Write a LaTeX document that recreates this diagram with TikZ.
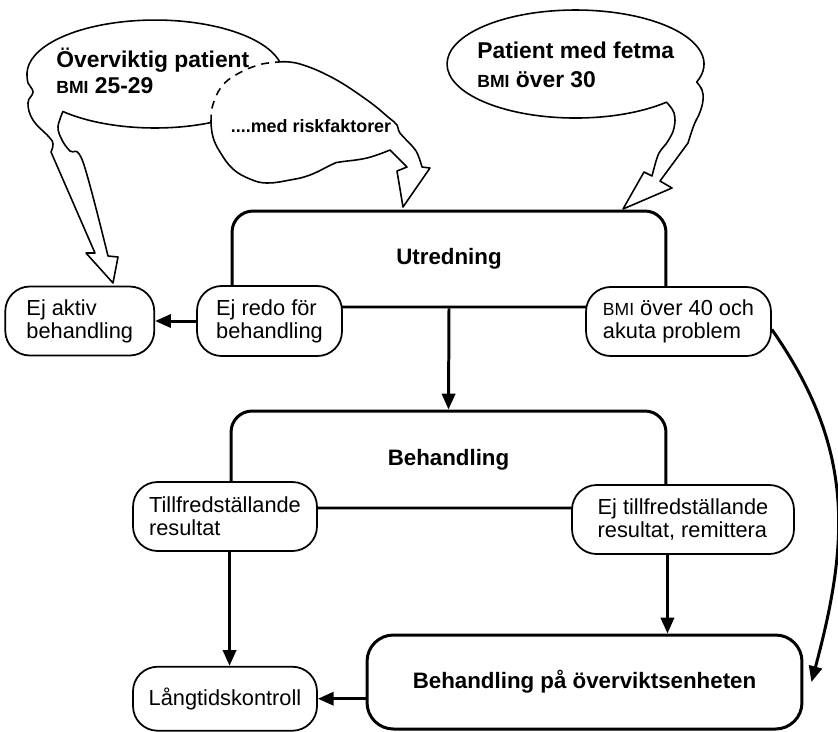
\documentclass[tikz,border=0pt]{standalone}
\usepackage{fontspec}
\setmainfont{Liberation Sans}
\usepackage{tikz}
\usetikzlibrary{arrows.meta, positioning, calc}
\newcommand{\smBMI}{{\fontsize{10}{10}\selectfont BMI}}
\tikzset{
	bigbox/.style   ={rectangle, draw=black, line width=1.7pt, rounded corners=12pt, font=\fontsize{12.7}{15}\selectfont\bfseries},
	statebox/.style ={rectangle, draw=black, line width=1pt, rounded corners=14pt, fill=white, align=left, inner sep=0pt},
	bubble/.style   ={line width=0.9pt, line join=round},
	bubtxt/.style   ={anchor=base west, inner sep=0pt, font=\fontsize{13}{16}\selectfont\bfseries},
	sig/.style      ={-{Triangle[length=9pt, width=7.5pt]}, line width=1.7pt},
}
\begin{document}
\begin{tikzpicture}[x=0.02cm, y=-0.02cm, font=\fontsize{12.4}{13.2}\selectfont]
	\useasboundingbox (0,0) rectangle (838,731);
	% speech bubbles
	\draw[bubble] (279.7,61.9) arc[start angle=-13, end angle=-179, x radius=128, y radius=54]
		-- plot[smooth, tension=0.7] coordinates {(27,73) (28,83) (33,92) (28,103) (33,120) (49,137) (53,144) (51,152)}
		-- (95,253) -- (86,253) -- (113,283) -- (118,257) -- (108,256)
		-- plot[smooth, tension=0.6] coordinates {(108,256) (83,162) (70,151) (62,140) (58,127) (62.9,111.5)}
		arc[start angle=136, end angle=64, x radius=128, y radius=54]
		-- plot[smooth, tension=0.7] coordinates {(211,122.5) (213,137) (220,152) (233,169) (250,179) (267,183) (290,180) (310,175) (333,164) (340,162) (367,158) (390,150)}
		-- (407,167) -- (397,171) -- (403,207) -- (430,168) -- (422,167)
		-- plot[smooth, tension=0.7] coordinates {(422,167) (418,155) (413,147) (400,133) (397,125) (388,117) (367,100) (333,78) (300,64) (279.7,61.9)};
	\draw[bubble, dash pattern=on 4.5pt off 3.5pt] plot[smooth] coordinates {(211,122.5) (212,108) (218,92) (228,80) (245,70) (262,64) (279.7,61.9)};
	\draw[bubble] (666.4,102.2) arc[start angle=45, end angle=379.5, x radius=128.5, y radius=54]
		-- plot[smooth, tension=0.7] coordinates {(696.6,82) (702,90) (703,100) (700,112) (694,125) (688,143)}
		-- (660,181) -- (672,188) -- (623,209) -- (644,172) -- (652,176)
		-- plot[smooth, tension=0.7] coordinates {(652,176) (657,158) (661,150) (668,141) (674,128) (674,113) (666.4,102.2)} -- cycle;
	\node[bubtxt] (overvikt) at (56,67) {Överviktig patient};
	\node[bubtxt] (overviktbmi) at (56,93) {\smBMI{} 25-29};
	\node[bubtxt, anchor=base, font=\fontsize{10.2}{11}\selectfont\bfseries] (risk) at (311,132) {....med riskfaktorer};
	\node[bubtxt] (fetma) at (477,58) {Patient med fetma};
	\node[bubtxt] (fetmabmi) at (477,87) {\smBMI{} över 30};
	% flow chart
	\node[bigbox, minimum width=8.68cm, minimum height=1.92cm] (utr) at (449,259) {Utredning};
	\node[bigbox, minimum width=8.7cm, minimum height=1.94cm] (beh) at (448.5,459.5) {Behandling};
	\node[bigbox, minimum width=8.7cm, minimum height=1.88cm, rounded corners=15pt] (behpa) at (584.5,682) {Behandling på överviktsenheten};
	\node[statebox, minimum width=2.9cm, minimum height=1.4cm] (ejredo) at (269.5,321) {Ej redo för\\behandling};
	\node[statebox, minimum width=2.98cm, minimum height=1.38cm, left=0.82cm of ejredo] (ejaktiv) {Ej aktiv\\behandling};
	\node[statebox, minimum width=3.7cm, minimum height=1.38cm] (bmi) at (678.5,321.5) {\smBMI{} över 40 och\\akuta problem};
	\node[statebox, minimum width=3.68cm, minimum height=1.38cm] (tillf) at (225,516.5) {Tillfredställande\\resultat};
	\node[statebox, minimum width=4.44cm, minimum height=1.38cm] (ejtillf) at (683,519.5) {Ej tillfredställande\\resultat, remittera};
	\node[statebox, minimum width=3.68cm, minimum height=1.28cm, below=2.28cm of tillf] (lang) {Långtidskontroll};
	\draw[sig] (ejredo.west) -- (ejredo.west -| ejaktiv.east);
	\draw[sig] (utr.south) -- (beh.north);
	\draw[sig] (tillf.south -| beh.west) -- (lang.north -| beh.west);
	\draw[sig] (ejtillf.south -| beh.east) -- (behpa.north -| beh.east);
	\draw[sig] (behpa.west |- lang.east) -- (lang.east);
	\draw[sig] ([yshift=-0.16cm]bmi.east) to[out=-55, in=75, looseness=1.05] ([xshift=0.16cm]behpa.east);
\end{tikzpicture}
\end{document}
